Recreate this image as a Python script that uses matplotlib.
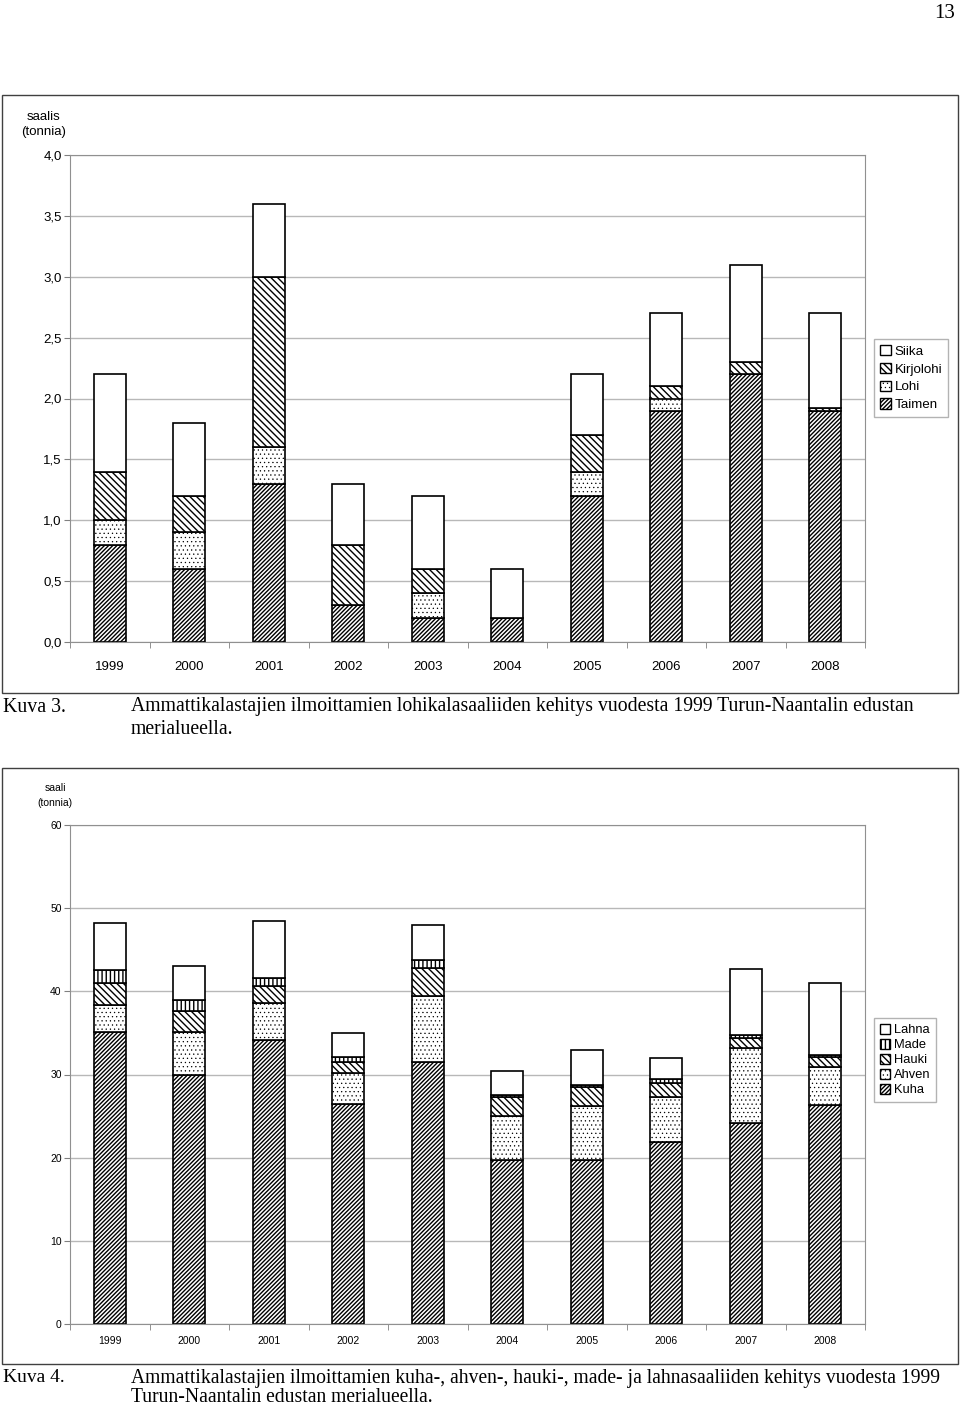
import matplotlib
matplotlib.use("Agg")
import matplotlib.pyplot as plt
import numpy as np
from matplotlib.patches import Patch, Rectangle

# Data
years = ["1999", "2000", "2001", "2002", "2003", "2004", "2005", "2006", "2007", "2008"]

# Kuva 3 (tonnia)
taimen = [0.8, 0.6, 1.3, 0.3, 0.2, 0.2, 1.2, 1.9, 2.2, 1.9]
lohi = [0.2, 0.3, 0.3, 0.0, 0.2, 0.0, 0.2, 0.1, 0.0, 0.0]
kirjolohi = [0.4, 0.3, 1.4, 0.5, 0.2, 0.0, 0.3, 0.1, 0.1, 0.02]
siika = [0.8, 0.6, 0.6, 0.5, 0.6, 0.4, 0.5, 0.6, 0.8, 0.78]

# Kuva 4 (tonnia)
kuha = [35.1, 30.0, 34.2, 26.5, 31.5, 19.7, 19.7, 21.9, 24.2, 26.35]
ahven = [3.25, 5.1, 4.4, 3.7, 7.95, 5.3, 6.5, 5.45, 8.95, 4.55]
hauki = [2.65, 2.5, 2.0, 1.35, 3.3, 2.25, 2.3, 1.65, 1.25, 1.2]
made = [1.6, 1.35, 1.0, 0.6, 1.0, 0.3, 0.25, 0.45, 0.3, 0.25]
lahna = [5.6, 4.05, 6.8, 2.85, 4.2, 2.9, 4.15, 2.5, 8.0, 8.7]

top_ticks = [0.0, 0.5, 1.0, 1.5, 2.0, 2.5, 3.0, 3.5, 4.0]
bottom_ticks = [0, 10, 20, 30, 40, 50, 60]

plt.rcParams["font.family"] = ["Liberation Sans", "DejaVu Sans"]
plt.rcParams["hatch.linewidth"] = 1.0

# hatch patterns per species type
H_SLASH = "////////"
H_BACK = "\\\\\\\\\\"
H_DOTS = "...."
H_VERT = "||||"


def hatch_lw(h):
    # dots are drawn finer than the line hatches
    return 0.4 if h == H_DOTS else 1.0


W, H = 960, 1410
fig = plt.figure(figsize=(W / 100, H / 100), dpi=100)


def fx(px):
    return px / W


def fy(py):
    return 1 - py / H


def frame(y0, y1):
    fig.patches.append(Rectangle((fx(2), fy(y1)), fx(956), (y1 - y0) / H,
                                 transform=fig.transFigure, fill=False,
                                 edgecolor="#404040", lw=1.0))


def set_hlw(p, h):
    if hasattr(p, "set_hatch_linewidth"):
        p.set_hatch_linewidth(hatch_lw(h))


def stacked(ax, series, hatches, ymax, ticks, fmt, tsize, pad):
    x = np.arange(len(years))
    bottom = np.zeros(len(years))
    for vals, h in zip(series, hatches):
        plt.rcParams["hatch.linewidth"] = hatch_lw(h)
        bars = ax.bar(x, vals, width=0.4, bottom=bottom, color="white",
                      edgecolor="black", hatch=h, lw=1.2, zorder=3)
        for b in bars:
            set_hlw(b, h)
        bottom += np.array(vals)
    plt.rcParams["hatch.linewidth"] = 1.0
    ax.set_xlim(-0.5, len(years) - 0.5)
    ax.set_ylim(0, ymax)
    ax.set_yticks(ticks)
    ax.set_yticklabels([fmt(t) for t in ticks], fontsize=tsize)
    ax.set_xticks(x)
    ax.set_xticklabels(years, fontsize=tsize)
    ax.set_xticks(np.arange(len(years) + 1) - 0.5, minor=True)
    ax.tick_params(axis="x", which="major", length=0, pad=pad)
    ax.tick_params(axis="x", which="minor", length=4, color="#808080")
    ax.tick_params(axis="y", length=4, color="#808080", pad=2)
    ax.grid(axis="y", color="#b8b8b8", lw=1.0, zorder=0)
    for s in ax.spines.values():
        s.set_color("#909090")
        s.set_zorder(4)


def legend(handles_h, labels, y_top, size, spacing):
    hs = []
    for h, l in zip(handles_h, labels):
        plt.rcParams["hatch.linewidth"] = hatch_lw(h)
        p = Patch(facecolor="white", edgecolor="black", hatch=h, label=l)
        set_hlw(p, h)
        hs.append(p)
    plt.rcParams["hatch.linewidth"] = 1.0
    leg = fig.legend(handles=hs, loc="upper left",
                     bbox_to_anchor=(fx(874), fy(y_top)),
                     fontsize=size, frameon=True, fancybox=False,
                     edgecolor="#a0a0a0", handlelength=0.8, handleheight=0.8,
                     handletextpad=0.3, labelspacing=spacing, borderpad=0.45,
                     borderaxespad=0)
    for p, h in zip(leg.get_patches(), handles_h):
        set_hlw(p, h)


# Kuva 3
frame(95, 693)
ax1 = fig.add_axes([fx(70), fy(642), fx(795), (642 - 155) / H])
stacked(ax1, [taimen, lohi, kirjolohi, siika],
        [H_SLASH, H_DOTS, H_BACK, ""], 4.0, top_ticks,
        lambda t: f"{t:.1f}".replace(".", ","), 9.5, 14)
fig.text(fx(44), fy(117), "saalis", ha="center", va="center", fontsize=9.5)
fig.text(fx(44), fy(132), "(tonnia)", ha="center", va="center", fontsize=9.5)
legend(["", H_BACK, H_DOTS, H_SLASH], ["Siika", "Kirjolohi", "Lohi", "Taimen"],
       339, 9.6, 0.38)

# Kuva 4
frame(768, 1364)
ax2 = fig.add_axes([fx(70), fy(1324), fx(795), (1324 - 825) / H])
stacked(ax2, [kuha, ahven, hauki, made, lahna],
        [H_SLASH, H_DOTS, H_BACK, H_VERT, ""], 60, bottom_ticks,
        lambda t: f"{t:d}", 7.5, 9)
fig.text(fx(55), fy(788), "saali", ha="center", va="center", fontsize=7.5)
fig.text(fx(55), fy(803), "(tonnia)", ha="center", va="center", fontsize=7.5)
legend(["", H_VERT, H_BACK, H_DOTS, H_SLASH],
       ["Lahna", "Made", "Hauki", "Ahven", "Kuha"], 1018, 9.3, 0.2)

# Page number and captions
serif = ["Liberation Serif", "DejaVu Serif"]
fig.text(fx(955), fy(13), "13", ha="right", va="center", fontsize=15, family=serif)
fig.text(fx(3), fy(707), "Kuva 3.", va="center", fontsize=14.3, family=serif)
fig.text(fx(131), fy(707),
         "Ammattikalastajien ilmoittamien lohikalasaaliiden kehitys vuodesta "
         "1999 Turun-Naantalin edustan", va="center", fontsize=14.2, family=serif)
fig.text(fx(131), fy(729), "merialueella.", va="center", fontsize=14.2, family=serif)
fig.text(fx(3), fy(1378), "Kuva 4.", va="center", fontsize=14, family=serif)
fig.text(fx(131), fy(1378),
         "Ammattikalastajien ilmoittamien kuha-, ahven-, hauki-, made- ja "
         "lahnasaaliiden kehitys vuodesta 1999", va="center", fontsize=14.1,
         family=serif)
fig.text(fx(131), fy(1398), "Turun-Naantalin edustan merialueella.",
         va="center", fontsize=14.1, family=serif)

fig.savefig("out.png", dpi=100)
